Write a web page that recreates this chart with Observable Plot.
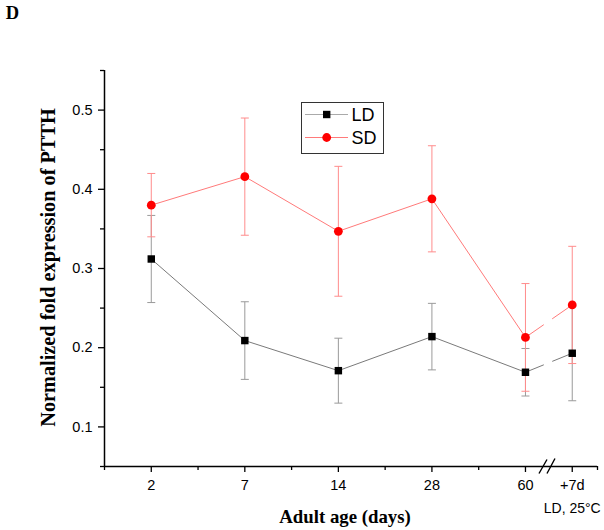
<!DOCTYPE html>
<html><head><meta charset="utf-8">
<script src="https://cdn.jsdelivr.net/npm/d3@7"></script>
<script src="https://cdn.jsdelivr.net/npm/@observablehq/plot@0.6"></script>
<style>
body{margin:0;background:#fff;}
#wrap{position:relative;width:604px;height:530px;}
#legend{position:absolute;left:301px;top:102px;}
</style></head><body>
<div id="wrap"><div id="legend"></div></div>
<script>
// ---- data ----
const categories = ["2", "7", "14", "28", "60", "+7d"];
const positions = [0, 1, 2, 3, 4, 4.5];
const ldMean = [0.312, 0.209, 0.171, 0.214, 0.169, 0.193];
const ldErr  = [0.055, 0.049, 0.041, 0.042, 0.030, 0.060];
const sdMean = [0.380, 0.416, 0.347, 0.388, 0.213, 0.254];
const sdErr  = [0.040, 0.074, 0.082, 0.067, 0.068, 0.074];
const yMajor = [0.1, 0.2, 0.3, 0.4, 0.5];
const yMinor = [0.05, 0.15, 0.25, 0.35, 0.45, 0.55];
const xMinor = [-0.5, 0.5, 1.5, 2.5, 3.5, 4.77];
const xDomain = [-0.5, 4.77];
const yDomain = [0.05, 0.55];
const breakAt = 4.23;
const seriesNames = ["LD", "SD"];

const rows = (mean, err) => positions.map((x, i) => ({x, y: mean[i], lo: mean[i] - err[i], hi: mean[i] + err[i]}));
const ld = rows(ldMean, ldErr);
const sd = rows(sdMean, sdErr);
const lastSeg = (r) => [{x1: r[4].x, y1: r[4].y, x2: r[5].x, y2: r[5].y}];

const cap = {draw(ctx) { ctx.moveTo(-4, 0); ctx.lineTo(4, 0); }};
const brk = {draw(ctx) { ctx.moveTo(-8, 7); ctx.lineTo(0, -7); ctx.moveTo(0, 7); ctx.lineTo(8, -8); }};

const LDc = {line: "#7a7a7a", err: "#9a9a9a", mark: "#000000"};
const SDc = {line: "#ff7a7a", err: "#ff8c8c", mark: "#ff0000"};
const serif = "'Liberation Serif', 'Times New Roman', serif";

function errMarks(r, c) {
  return [
    Plot.link(r, {x1: "x", x2: "x", y1: "lo", y2: "hi", stroke: c.err, strokeWidth: 1}),
    Plot.dot(r, {x: "x", y: "hi", symbol: cap, stroke: c.err, strokeWidth: 1, fill: "none"}),
    Plot.dot(r, {x: "x", y: "lo", symbol: cap, stroke: c.err, strokeWidth: 1, fill: "none"})
  ];
}

const chart = Plot.plot({
  width: 604, height: 530,
  marginTop: 70, marginBottom: 64, marginLeft: 104, marginRight: 7,
  style: {fontFamily: "'Liberation Sans', Arial, sans-serif", fontSize: "14.5px", background: "#fff", color: "#000"},
  x: {domain: xDomain},
  y: {domain: yDomain},
  marks: [
    Plot.axisY({ticks: yMajor, tickSize: 6, tickPadding: 6, tickFormat: d3.format(".1f"), strokeWidth: 1.3, label: null}),
    Plot.axisY({ticks: yMinor, tickSize: 4, tickFormat: () => "", strokeWidth: 1.3, label: null}),
    Plot.axisX({ticks: positions, tickSize: 6, tickPadding: 7, tickFormat: d => categories[positions.indexOf(d)], strokeWidth: 1.3, label: null}),
    Plot.axisX({ticks: xMinor, tickSize: 4, tickFormat: () => "", strokeWidth: 1.3, label: null}),
    Plot.ruleX([xDomain[0]], {stroke: "#000", strokeWidth: 1.5}),
    Plot.ruleY([yDomain[0]], {stroke: "#000", strokeWidth: 1.5}),
    Plot.dot([{x: breakAt, y: yDomain[0]}], {x: "x", y: "y", symbol: brk, stroke: "#000", strokeWidth: 1.4, fill: "none"}),
    ...errMarks(ld, LDc),
    Plot.line(ld.slice(0, 5), {x: "x", y: "y", stroke: LDc.line, strokeWidth: 1}),
    Plot.link(lastSeg(ld), {x1: "x1", y1: "y1", x2: "x2", y2: "y2", stroke: LDc.line, strokeWidth: 1, strokeDasharray: "19.8,9.1,100"}),
    ...errMarks(sd, SDc),
    Plot.line(sd.slice(0, 5), {x: "x", y: "y", stroke: SDc.line, strokeWidth: 1}),
    Plot.link(lastSeg(sd), {x1: "x1", y1: "y1", x2: "x2", y2: "y2", stroke: SDc.line, strokeWidth: 1, strokeDasharray: "22.3,10.2,100"}),
    Plot.dot(ld, {x: "x", y: "y", symbol: "square", r: 4.2, fill: LDc.mark, stroke: "none"}),
    Plot.dot(sd, {x: "x", y: "y", symbol: "circle", r: 4.4, fill: SDc.mark, stroke: "none"}),
    Plot.text(["LD, 25°C"], {x: positions[5], frameAnchor: "bottom", dy: 42, lineAnchor: "middle", textAnchor: "middle", fontSize: 14}),
    Plot.text(["Adult age (days)"], {frameAnchor: "bottom", dx: -6, dy: 50, lineAnchor: "middle", textAnchor: "middle", fontFamily: serif, fontWeight: "bold", fontSize: 18.8}),
    Plot.text(["Normalized fold expression of PTTH"], {frameAnchor: "left", dx: -56, dy: -1, rotate: -90, textAnchor: "middle", lineAnchor: "middle", fontFamily: serif, fontWeight: "bold", fontSize: 20.3}),
    Plot.text(["D"], {frameAnchor: "top-left", dx: -92, dy: -57, textAnchor: "middle", lineAnchor: "middle", fontFamily: serif, fontWeight: "bold", fontSize: 18.5})
  ]
});
document.getElementById("wrap").prepend(chart);

// ---- legend ----
const lg = d3.select("#legend").append("svg").attr("width", 83).attr("height", 52);
lg.append("rect").attr("x", 0.5).attr("y", 0.5).attr("width", 82).attr("height", 51).attr("fill", "#fff").attr("stroke", "#333").attr("stroke-width", 1);
const styles = [LDc, SDc];
seriesNames.forEach((name, i) => {
  const cy = i === 0 ? 12.5 : 35.5;
  const c = styles[i];
  lg.append("line").attr("x1", 4).attr("x2", 47).attr("y1", cy).attr("y2", cy).attr("stroke", i === 0 ? "#aaa" : c.line).attr("stroke-width", 1);
  if (i === 0) lg.append("rect").attr("x", 25.7 - 3.7).attr("y", cy - 3.7).attr("width", 7.4).attr("height", 7.4).attr("fill", c.mark);
  else lg.append("circle").attr("cx", 25.7).attr("cy", cy).attr("r", 4.4).attr("fill", c.mark);
  lg.append("text").attr("x", 50.5).attr("y", cy).attr("dy", "0.36em").attr("font-family", "'Liberation Sans', Arial, sans-serif").attr("font-size", 18).text(name);
});
</script>
</body></html>
